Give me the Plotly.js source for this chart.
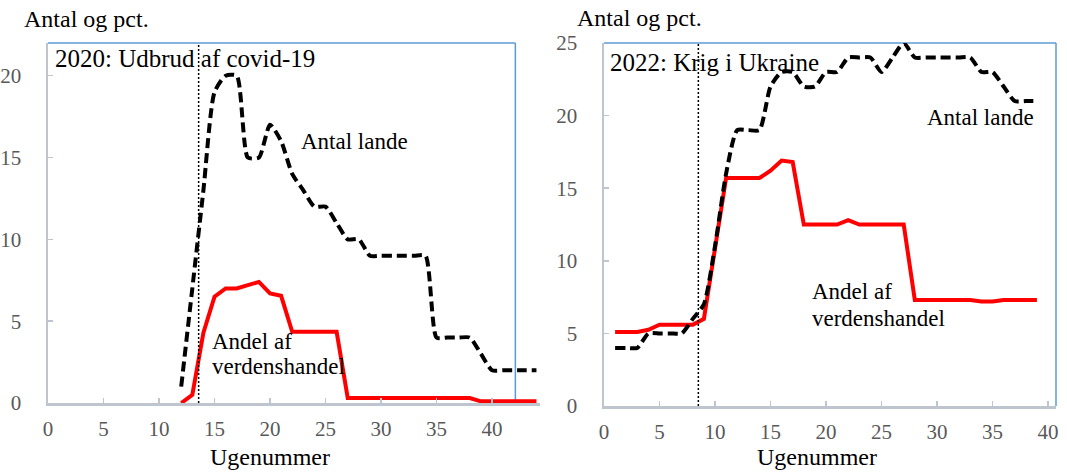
<!DOCTYPE html>
<html>
<head>
<meta charset="utf-8">
<script src="https://cdn.plot.ly/plotly-3.0.1.min.js"></script>
<style>html,body{margin:0;padding:0;background:#fff;}#chart{width:1067px;height:473px;}</style>
</head>
<body>
<div id="chart"></div>
<script>
// ---- Data: 2020 (covid-19) ----
const weeks2020 = [12,13,14,15,16,17,18,19,20,21,22,23,24,25,26,27,28,29,30,31,32,33,34,35,36,37,38,39,40,41,42,43,44];
const antalLande2020 = [1,7,13,19,20,20,15,15,17,16,14,13,12,12,11,10,10,9,9,9,9,9,9,4,4,4,4,3,2,2,2,2,2];
const andelHandel2020 = [0,0.5,4.3,6.5,7.0,7.0,7.2,7.4,6.7,6.55,4.35,4.35,4.35,4.35,4.35,0.3,0.3,0.3,0.3,0.3,0.3,0.3,0.3,0.3,0.3,0.3,0.3,0.1,0.1,0.1,0.1,0.1,0.1];
const event2020 = 13.57;

// ---- Data: 2022 (war in Ukraine) ----
const weeks2022 = [1,2,3,4,5,6,7,8,9,10,11,12,13,14,15,16,17,18,19,20,21,22,23,24,25,26,27,28,29,30,31,32,33,34,35,36,37,38,39];
const antalLande2022 = [4,4,4,5,5,5,5,6,7,11,16,19,19,19,22,23,23,22,22,23,23,24,24,24,23,24,25,24,24,24,24,24,24,23,23,22,21,21,21];
const andelHandel2022 = [5.1,5.1,5.1,5.25,5.6,5.6,5.6,5.6,6.0,10.8,15.7,15.7,15.7,15.7,16.2,16.9,16.8,12.5,12.5,12.5,12.5,12.8,12.5,12.5,12.5,12.5,12.5,7.3,7.3,7.3,7.3,7.3,7.3,7.2,7.2,7.3,7.3,7.3,7.3];
const event2022 = 8.5;

const xTicks = [0,5,10,15,20,25,30,35,40];
const labels = {
  yTitle: 'Antal og pct.',
  xTitle: 'Ugenummer',
  title2020: '2020: Udbrud af covid-19',
  title2022: '2022: Krig i Ukraine',
  lande: 'Antal lande',
  andel1: 'Andel af',
  andel2: 'verdenshandel'
};

// ---- Layout helpers ----
const W = 1067, H = 473;
const px = x => x / W;
const py = y => 1 - y / H;
const FONT = 'Liberation Serif, Times New Roman, serif';
const frameBlue = '#5B9BD5';
const axisGray = '#BFC5CF';

const blackStyle = {color:'#000000', width:4, dash:'10px,5px', shape:'spline', smoothing:0.6};
const redStyle = {color:'#FF0000', width:4};

const traces = [
  {x:weeks2020, y:andelHandel2020, xaxis:'x', yaxis:'y', mode:'lines', line:redStyle, hoverinfo:'skip'},
  {x:weeks2020, y:antalLande2020, xaxis:'x', yaxis:'y', mode:'lines', line:blackStyle, hoverinfo:'skip'},
  {x:weeks2022, y:andelHandel2022, xaxis:'x2', yaxis:'y2', mode:'lines', line:redStyle, hoverinfo:'skip'},
  {x:weeks2022, y:antalLande2022, xaxis:'x2', yaxis:'y2', mode:'lines', line:blackStyle, hoverinfo:'skip'}
];

const tickFont = {family:FONT, size:21, color:'#595959'};
function xAxis(domain, range, anchor){
  return {domain, range, anchor, showline:true, linecolor:axisGray, linewidth:2.5,
    ticks:'inside', ticklen:5, tickwidth:1.5, tickcolor:axisGray, tickvals:xTicks,
    showgrid:false, zeroline:false, tickfont:tickFont, ticklabelstandoff:5, fixedrange:true};
}
function yAxis(domain, range, anchor){
  return {domain, range, anchor, showline:true, linecolor:axisGray, linewidth:2.5,
    ticks:'inside', ticklen:5, tickwidth:1.5, tickcolor:axisGray, dtick:5, tick0:0,
    showgrid:false, zeroline:false, tickfont:tickFont, ticklabelstandoff:20, fixedrange:true};
}

function ann(text, xPix, yPix, size, xanchor){
  return {text, xref:'paper', yref:'paper', x:px(xPix), y:py(yPix), xanchor:xanchor||'left', yanchor:'middle',
    showarrow:false, font:{family:FONT, size:size, color:'#000000'}};
}

const layout = {
  width:W, height:H,
  margin:{l:0, r:0, t:0, b:0},
  paper_bgcolor:'#ffffff', plot_bgcolor:'#ffffff',
  showlegend:false,
  xaxis: xAxis([px(48), px(540)], [0, 44.32], 'y'),
  yaxis: yAxis([py(403), py(43)], [0, 22], 'x'),
  xaxis2: xAxis([px(604), px(1056)], [0, 40.72], 'y2'),
  yaxis2: yAxis([py(406), py(43)], [0, 25], 'x2'),
  shapes: [
    {type:'line', xref:'x', yref:'y domain', x0:0, x1:42.1, y0:1, y1:1, line:{color:frameBlue, width:1.5}, layer:'below'},
    {type:'line', xref:'x', yref:'y domain', x0:42.1, x1:42.1, y0:0, y1:1, line:{color:frameBlue, width:1.5}, layer:'below'},
    {type:'line', xref:'x', yref:'y domain', x0:event2020, x1:event2020, y0:0, y1:1, line:{color:'#000000', width:1.5, dash:'2px,2px'}},
    {type:'line', xref:'x2 domain', yref:'y2 domain', x0:0, x1:1, y0:1, y1:1, line:{color:frameBlue, width:1.5}, layer:'below'},
    {type:'line', xref:'x2 domain', yref:'y2 domain', x0:1, x1:1, y0:0, y1:1, line:{color:frameBlue, width:1.5}, layer:'below'},
    {type:'line', xref:'x2', yref:'y2 domain', x0:event2022, x1:event2022, y0:0, y1:1, line:{color:'#000000', width:1.5, dash:'2px,2px'}}
  ],
  annotations: [
    ann(labels.yTitle, 22, 19, 24),
    ann(labels.title2020, 53, 58, 25),
    ann(labels.lande, 299, 141, 23),
    ann(labels.andel1, 210, 341, 23),
    ann(labels.andel2, 210, 366, 23),
    ann(labels.xTitle, 270, 457, 24, 'center'),
    ann(labels.yTitle, 575, 18, 24),
    ann(labels.title2022, 608, 62, 25),
    ann(labels.lande, 925, 118, 23),
    ann(labels.andel1, 810, 291, 23),
    ann(labels.andel2, 810, 318, 23),
    ann(labels.xTitle, 817, 457, 24, 'center')
  ]
};

Plotly.newPlot('chart', traces, layout, {staticPlot:true, displayModeBar:false});
</script>
</body>
</html>
